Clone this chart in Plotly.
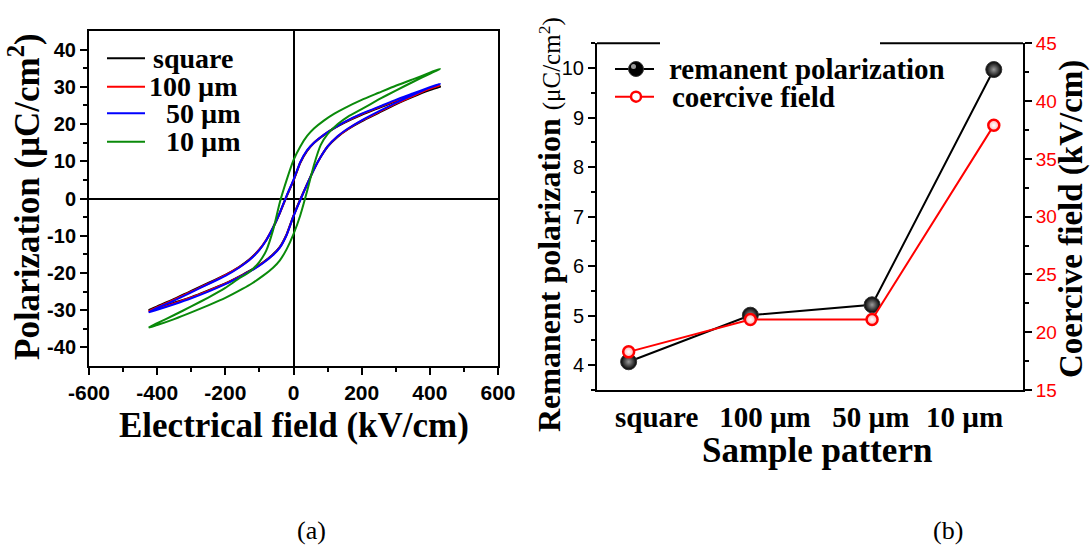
import plotly.graph_objects as go

# ---------------- data: panel (a) hysteresis loops ----------------
E_up = [430, 400, 350, 300, 250, 200, 150, 120, 90, 60, 40, 20, 0,
        -20, -40, -60, -80, -100, -130, -160, -200, -250, -300, -350, -400, -425]
E_down = [-425, -400, -350, -300, -250, -200, -150, -120, -90, -60, -40, -20, 0,
          20, 40, 60, 80, 100, 130, 160, 200, 250, 300, 350, 400, 430]

P_square_up = [30.0, 29.2, 27.7, 26.1, 24.3, 22.5, 20.4, 18.9, 17.1, 14.9, 12.8, 9.6, 4.8,
               0.6, -3.9, -7.9, -11.2, -13.7, -16.4, -18.4, -20.5, -22.7, -24.8, -27.0, -29.0, -30.0]
P_square_down = [-30.0, -29.5, -28.0, -26.5, -24.7, -22.8, -20.5, -19.0, -17.2, -15.0, -13.0, -9.6, -4.6,
                 -0.2, 3.9, 7.9, 11.2, 13.9, 16.6, 18.6, 20.7, 23.0, 25.3, 27.3, 29.1, 30.0]
P_100_up = [30.4, 29.5, 27.9, 26.3, 24.5, 22.7, 20.5, 19.0, 17.2, 15.0, 12.9, 9.7, 4.9,
            0.7, -3.8, -7.8, -11.1, -13.7, -16.5, -18.5, -20.6, -22.9, -25.0, -27.2, -29.2, -30.3]
P_100_down = [-30.3, -29.7, -28.2, -26.6, -24.8, -22.9, -20.6, -19.1, -17.3, -15.1, -13.1, -9.7, -4.7,
              -0.3, 3.8, 7.8, 11.2, 14.0, 16.7, 18.7, 20.9, 23.2, 25.5, 27.5, 29.5, 30.4]
P_50_up = [30.8, 29.9, 28.2, 26.5, 24.6, 22.8, 20.6, 19.0, 17.2, 15.0, 13.0, 9.8, 5.0,
           0.8, -3.8, -7.8, -11.2, -13.8, -16.6, -18.6, -20.8, -23.0, -25.2, -27.4, -29.4, -30.6]
P_50_down = [-30.6, -29.9, -28.4, -26.8, -25.0, -23.0, -20.7, -19.2, -17.4, -15.2, -13.2, -9.8, -4.8,
             -0.4, 3.8, 7.8, 11.2, 14.0, 16.8, 18.8, 21.0, 23.4, 25.7, 27.8, 29.8, 30.8]
P_10_up = [34.8, 33.8, 32.0, 30.3, 28.4, 26.5, 24.3, 22.8, 21.0, 18.8, 16.8, 14.0, 10.3,
           5.0, -1.0, -8.5, -14.0, -17.0, -19.8, -21.5, -24.0, -26.6, -29.0, -31.3, -33.5, -34.7]
P_10_down = [-34.7, -34.0, -32.4, -30.6, -28.7, -26.7, -24.3, -22.7, -20.8, -18.6, -16.6, -13.6, -9.6,
             -4.5, 2.0, 9.0, 14.4, 17.3, 20.0, 22.0, 24.0, 26.6, 29.0, 31.3, 33.5, 34.8]

loop_names = ["square", "100 µm", "50 µm", "10 µm"]
loop_colors = ["#000000", "#ff0000", "#0000ff", "#0a8a0a"]

E_ticks = [-600, -400, -200, 0, 200, 400, 600]
E_ticktext = ["-600", "-400", "-200", "0", "200", "400", "600"]
P_ticks = [-40, -30, -20, -10, 0, 10, 20, 30, 40]
P_ticktext = ["-40", "-30", "-20", "-10", "0", "10", "20", "30", "40"]

# ---------------- data: panel (b) ----------------
categories = ["square", "100 µm", "50 µm", "10 µm"]
remanent = [4.07, 5.01, 5.22, 9.97]
coercive = [18.3, 21.1, 21.1, 37.9]

W, H = 1092, 552
def px(x):
    return x / W
def py(y):
    return 1 - y / H

SERIF = "Liberation Serif"
SANS = "Liberation Sans"

fig = go.Figure()

branches = [(P_square_up, P_square_down), (P_100_up, P_100_down),
            (P_50_up, P_50_down), (P_10_up, P_10_down)]
for name, col, (up, dn) in zip(loop_names, loop_colors, branches):
    fig.add_trace(go.Scatter(x=E_up + E_down, y=up + dn, mode="lines", name=name,
                             line=dict(color=col, width=2, shape="spline", smoothing=0.5),
                             showlegend=False, xaxis="x", yaxis="y"))

xcat = list(range(len(categories)))
fig.add_trace(go.Scatter(x=xcat, y=remanent, mode="lines+markers", name="remanent polarization",
                         line=dict(color="black", width=2),
                         marker=dict(size=16, color="black", gradient=dict(type="radial", color="#9a9a9a"),
                                     line=dict(color="#333", width=1)),
                         showlegend=False, xaxis="x2", yaxis="y2"))
fig.add_trace(go.Scatter(x=xcat, y=coercive, mode="lines+markers", name="coercive field",
                         line=dict(color="#ff0000", width=2),
                         marker=dict(size=11, color="#ffb0b0", gradient=dict(type="radial", color="white"),
                                     line=dict(color="#ff0000", width=2.5)),
                         showlegend=False, xaxis="x2", yaxis="y3"))

tick_common = dict(ticks="outside", ticklen=7, tickwidth=1.5, tickcolor="black",
                   showline=True, linecolor="black", linewidth=2, showgrid=False,
                   automargin=False)

label_shift = [0.23, 0.12, -0.01, -0.24]

fig.update_layout(
    width=W, height=H, autosize=False,
    margin=dict(l=0, r=0, t=0, b=0, pad=0),
    paper_bgcolor="white", plot_bgcolor="white",
    xaxis=dict(domain=[px(89), px(498)], range=[-600, 600], anchor="y",
               tickvals=E_ticks, ticktext=E_ticktext, mirror=True, zeroline=True,
               zerolinecolor="black", zerolinewidth=1.5,
               minor=dict(ticks="outside", ticklen=4, tickwidth=1.5, tickcolor="black",
                          tickvals=[-500, -300, -100, 100, 300, 500]),
               tickfont=dict(family=SANS, size=21, color="black", weight="bold"), **tick_common),
    yaxis=dict(domain=[py(366), py(31)], range=[-45, 45], anchor="x",
               tickvals=P_ticks, ticktext=P_ticktext, mirror=True, zeroline=True,
               zerolinecolor="black", zerolinewidth=1.5,
               minor=dict(ticks="outside", ticklen=4, tickwidth=1.5, tickcolor="black",
                          tickvals=[-35, -25, -15, -5, 5, 15, 25, 35]),
               tickfont=dict(family=SANS, size=20, color="black", weight="bold"), **tick_common),
    xaxis2=dict(domain=[px(597), px(1023)], range=[-0.26, 3.24], anchor="y2",
                tickvals=[i + s for i, s in zip(xcat, label_shift)], ticktext=categories,
                ticks="", showline=True, linecolor="black", linewidth=2, showgrid=False,
                zeroline=False, automargin=False,
                tickfont=dict(family=SERIF, size=29, color="black", weight="bold")),
    yaxis2=dict(domain=[py(390), py(43.3)], range=[3.5, 10.5], anchor="x2", dtick=1,
                zeroline=False,
                minor=dict(ticks="outside", ticklen=4, tickwidth=1.5, tickcolor="black", dtick=0.5),
                tickfont=dict(family=SANS, size=20, color="black"), **tick_common),
    yaxis3=dict(domain=[py(390), py(43.3)], range=[15, 45], anchor="x2", overlaying="y2",
                side="right", dtick=5, zeroline=False,
                minor=dict(ticks="outside", ticklen=4, tickwidth=1.5, tickcolor="black", dtick=2.5),
                tickfont=dict(family=SANS, size=19, color="#ff0000"), **tick_common),
)

shapes = []
# broken top border of panel (b)
shapes.append(dict(type="line", xref="paper", yref="paper", x0=px(597), x1=px(660),
                   y0=py(43.3), y1=py(43.3), line=dict(color="black", width=2)))
shapes.append(dict(type="line", xref="paper", yref="paper", x0=px(880), x1=px(1023),
                   y0=py(43.3), y1=py(43.3), line=dict(color="black", width=2)))

annotations = []
# legend of panel (a)
leg_y = [58.3, 86.7, 113.3, 141.7]
leg_tx = [151.7, 148, 165, 165]
for name, col, yy, tx in zip(loop_names, loop_colors, leg_y, leg_tx):
    shapes.append(dict(type="line", xref="paper", yref="paper", x0=px(107), x1=px(145),
                       y0=py(yy), y1=py(yy), line=dict(color=col, width=2)))
    annotations.append(dict(x=px(tx), y=py(yy), xref="paper", yref="paper", text=name,
                            showarrow=False, xanchor="left", yanchor="middle", borderpad=0,
                            font=dict(family=SERIF, size=28, color="black", weight="bold")))

# legend of panel (b)
shapes.append(dict(type="line", xref="paper", yref="paper", x0=px(615), x1=px(654),
                   y0=py(69), y1=py(69), line=dict(color="black", width=2)))
shapes.append(dict(type="circle", xref="paper", yref="paper", x0=px(628.5), x1=px(643.5),
                   y0=py(76.5), y1=py(61.5), fillcolor="black", line=dict(color="#333", width=1)))
shapes.append(dict(type="circle", xref="paper", yref="paper", x0=px(631), x1=px(636),
                   y0=py(69), y1=py(64), fillcolor="#9a9a9a", line=dict(width=0)))
shapes.append(dict(type="line", xref="paper", yref="paper", x0=px(615), x1=px(654),
                   y0=py(96.7), y1=py(96.7), line=dict(color="#ff0000", width=2)))
shapes.append(dict(type="circle", xref="paper", yref="paper", x0=px(631), x1=px(641),
                   y0=py(101.7), y1=py(91.7), fillcolor="white", line=dict(color="#ff0000", width=2.5)))
annotations.append(dict(x=px(668), y=py(69), xref="paper", yref="paper", text="remanent polarization",
                        showarrow=False, xanchor="left", yanchor="middle", borderpad=0,
                        font=dict(family=SERIF, size=29, color="black", weight="bold")))
annotations.append(dict(x=px(671), y=py(96.7), xref="paper", yref="paper", text="coercive field",
                        showarrow=False, xanchor="left", yanchor="middle", borderpad=0,
                        font=dict(family=SERIF, size=29, color="black", weight="bold")))

# axis titles
title_font = dict(family=SERIF, size=35, color="black", weight="bold")
annotations.append(dict(x=px(25), y=py(197), xref="paper", yref="paper",
                        text="Polarization (μC/cm<sup>2</sup>)", textangle=-90, showarrow=False,
                        xanchor="center", yanchor="middle", font=title_font))
annotations.append(dict(x=px(294), y=py(425), xref="paper", yref="paper",
                        text="Electrical field (kV/cm)", showarrow=False,
                        xanchor="center", yanchor="middle", font=title_font))
annotations.append(dict(x=px(549), y=py(225), xref="paper", yref="paper",
                        text="Remanent polarization <span style='font-size:25px;font-weight:normal'>(μC/cm<sup>2</sup>)</span>",
                        textangle=-90, showarrow=False, xanchor="center", yanchor="middle",
                        font=dict(family=SERIF, size=32, color="black", weight="bold")))
annotations.append(dict(x=px(1071), y=py(219), xref="paper", yref="paper",
                        text="Coercive field (kV/cm)", textangle=-90, showarrow=False,
                        xanchor="center", yanchor="middle",
                        font=dict(family=SERIF, size=33, color="black", weight="bold")))
annotations.append(dict(x=px(817), y=py(450), xref="paper", yref="paper",
                        text="Sample pattern", showarrow=False, xanchor="center", yanchor="middle",
                        font=title_font))
# panel labels
for lab, xx in [("(a)", 311), ("(b)", 948)]:
    annotations.append(dict(x=px(xx), y=py(530), xref="paper", yref="paper", text=lab,
                            showarrow=False, xanchor="center", yanchor="middle",
                            font=dict(family=SERIF, size=26, color="black")))

fig.update_layout(shapes=shapes, annotations=annotations)
fig.write_html("out.html")
